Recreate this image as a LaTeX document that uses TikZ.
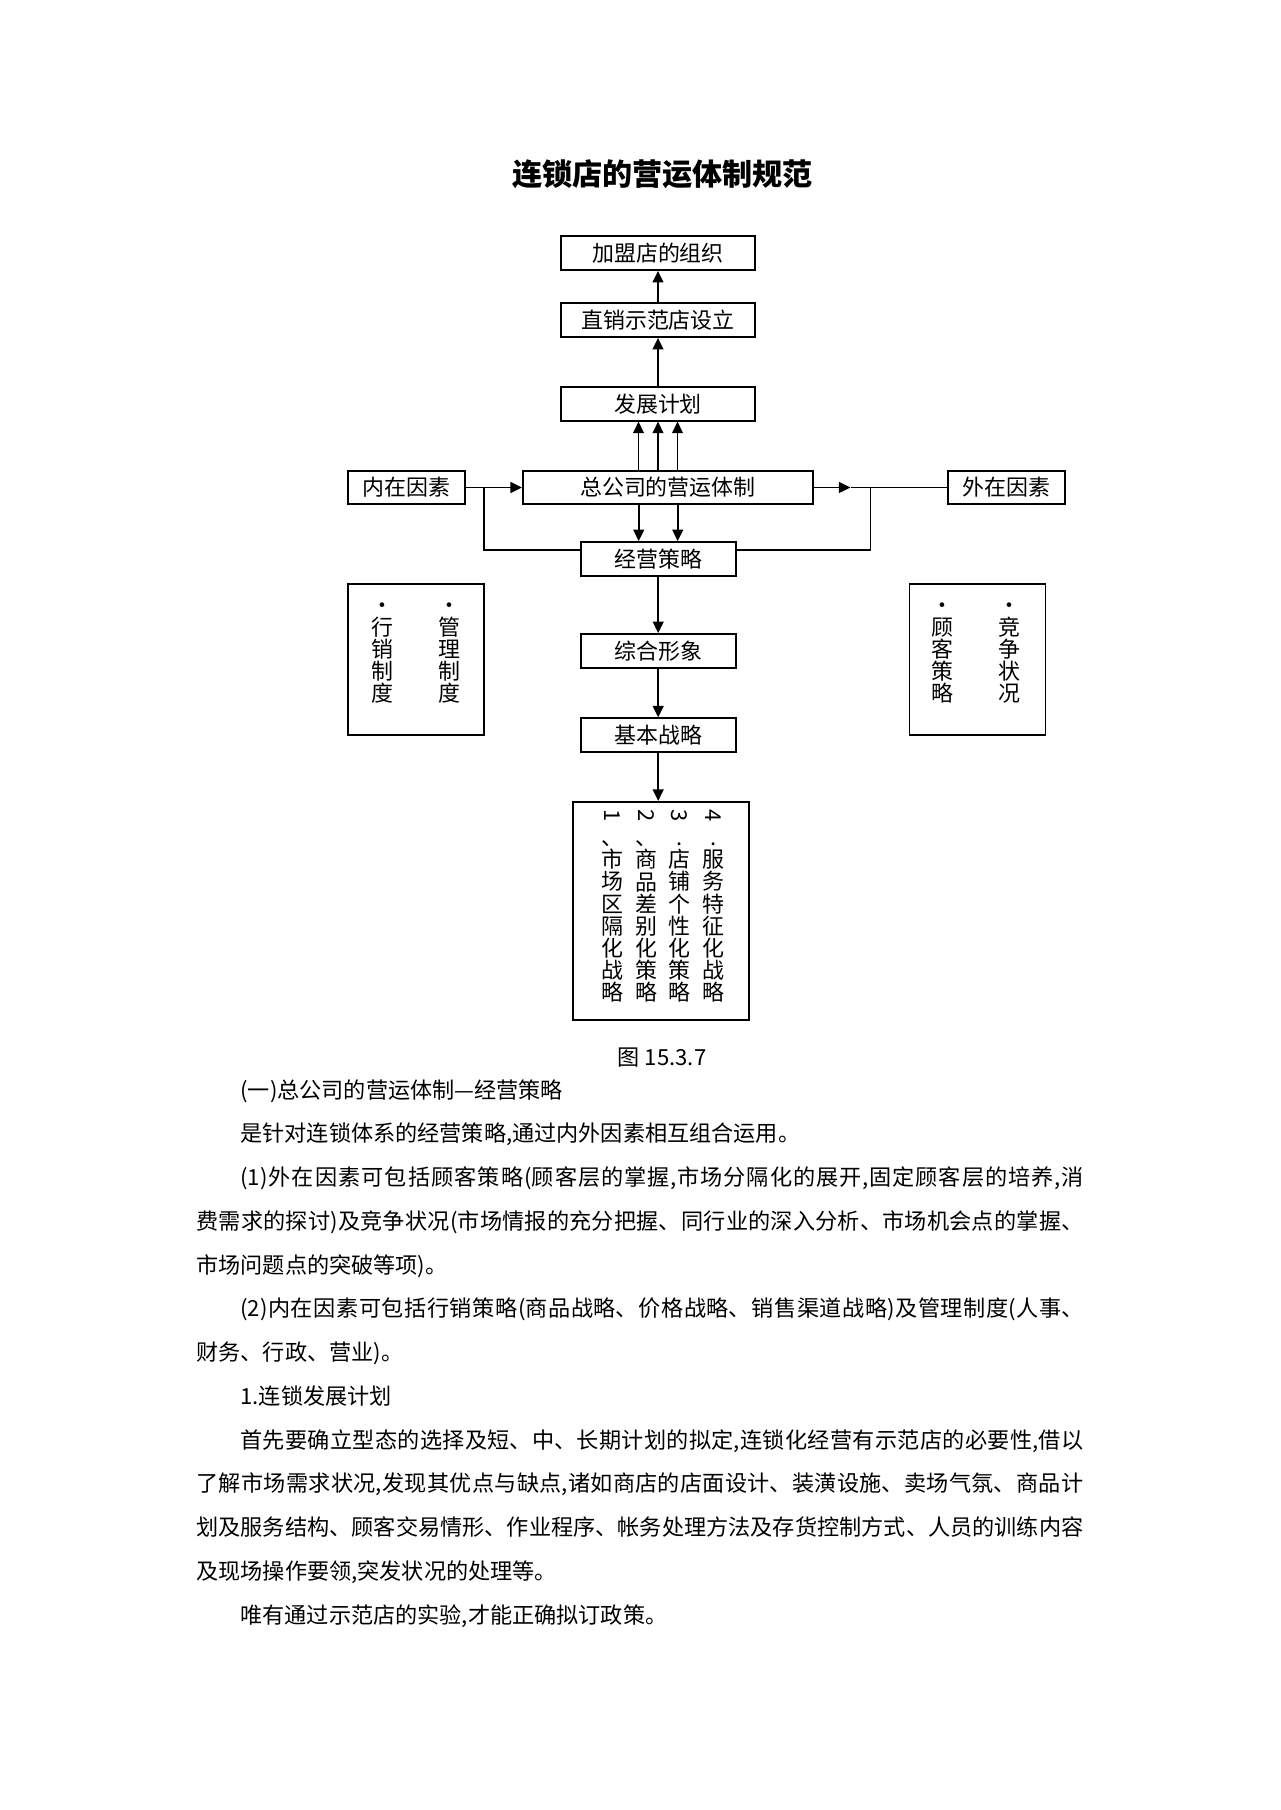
\documentclass[tikz,border=0pt]{standalone}
\usepackage{fontspec}
\usepackage{graphicx}
\setmainfont{Noto Sans CJK SC}
\usetikzlibrary{arrows.meta}
\XeTeXlinebreaklocale "zh"
\XeTeXlinebreakskip=0pt plus 1pt
\newcommand{\pxu}{0.4651pt}
\tikzset{
  box/.style={draw,line width=0.8pt,inner sep=0pt,font=\fontsize{10.2pt}{12pt}\selectfont},
  arr/.style={-{Triangle[length=5.4pt,width=5pt]},line width=0.9pt},
  xian/.style={line width=0.7pt},
  vcol/.style={align=center,inner sep=0pt,font=\fontsize{10.2pt}{10.3pt}\selectfont},
}
\begin{document}
\begin{tikzpicture}[x=0.4651pt,y=-0.4651pt]
    \useasboundingbox (0,0) rectangle (1280,1810);
    \node[font=\fontsize{14pt}{16pt}\selectfont\bfseries] (biaoti) at (662.5,174) {连锁店的营运体制规范};

    \node[box,minimum width=194*\pxu,minimum height=34*\pxu] (jiameng) at (658,253) {加盟店的组织};
    \node[box,minimum width=194*\pxu,minimum height=34*\pxu] (zhixiao) at (658,320) {直销示范店设立};
    \node[box,minimum width=194*\pxu,minimum height=34*\pxu] (fazhan) at (658,403.7) {发展计划};
    \node[box,minimum width=290*\pxu,minimum height=33.6*\pxu] (zonggongsi) at (667.9,487.5) {总公司的营运体制};
    \node[box,minimum width=117*\pxu,minimum height=33.6*\pxu] (neizai) at (406.5,487.5) {内在因素};
    \node[box,minimum width=117*\pxu,minimum height=33.6*\pxu] (waizai) at (1006.3,487.5) {外在因素};
    \node[box,minimum width=155*\pxu,minimum height=34*\pxu] (jingying) at (658.2,559) {经营策略};
    \node[box,minimum width=155*\pxu,minimum height=34*\pxu] (zonghe) at (658.2,651) {综合形象};
    \node[box,minimum width=155*\pxu,minimum height=34*\pxu] (jiben) at (658.2,735.3) {基本战略};

    % side boxes
    \node[box,minimum width=136*\pxu,minimum height=151*\pxu] (neibox) at (416,659.5) {};
    \node[vcol] (hangxiao) at (382,653) {•\\行\\销\\制\\度};
    \node[vcol] (guanli) at (449,653) {•\\管\\理\\制\\度};
    \node[box,minimum width=136*\pxu,minimum height=151*\pxu] (waibox) at (977.6,659.6) {};
    \node[vcol] (guke) at (942.7,653) {•\\顾\\客\\策\\略};
    \node[vcol] (jingzheng) at (1009.3,653) {•\\竞\\争\\状\\况};

    % strategy box
    \node[box,minimum width=176*\pxu,minimum height=218.3*\pxu] (celve) at (661,911) {};
    \node[vcol] (celve1) at (612.7,906) {\rotatebox[origin=c]{-90}{1}\\、\\市\\场\\区\\隔\\化\\战\\略};
    \node[vcol] (celve2) at (646.5,906) {\rotatebox[origin=c]{-90}{2}\\、\\商\\品\\差\\别\\化\\策\\略};
    \node[vcol] (celve3) at (679.7,906) {\rotatebox[origin=c]{-90}{3}\\.\\店\\铺\\个\\性\\化\\策\\略};
    \node[vcol] (celve4) at (713.3,906) {\rotatebox[origin=c]{-90}{4}\\.\\服\\务\\特\\征\\化\\战\\略};

    % connectors
    \draw[arr] (zhixiao) -- (jiameng);
    \draw[arr] (fazhan) -- (zhixiao);
    \foreach \dx in {-9.07,0,9.07}
      \draw[arr] ([xshift=\dx pt]fazhan.south |- zonggongsi.north) -- ([xshift=\dx pt]fazhan.south);
    \foreach \dx in {-9.07,9.07}
      \draw[arr] ([xshift=\dx pt]jingying.north |- zonggongsi.south) -- ([xshift=\dx pt]jingying.north);
    \coordinate (lfen) at (484,487.5);
    \coordinate (rjian) at (850.5,487.5);
    \coordinate (rfen) at (870.7,487.5);
    \draw[arr] (neizai) -- (zonggongsi);
    \draw[arr] (zonggongsi) -- (rjian);
    \draw[xian] (rjian) -- (waizai);
    \draw[xian] (lfen) |- ([yshift=4.2pt]jingying.west);
    \draw[xian] (rfen) |- ([yshift=4.2pt]jingying.east);
    \draw[arr] (jingying) -- (zonghe);
    \draw[arr] (zonghe) -- (jiben);
    \draw[arr] (jiben.south) -- (jiben.south |- celve.north);

    \node[font=\fontsize{10.3pt}{12pt}\selectfont] (tuhao) at (662,1058) {图 15.3.7};

    % text below
    \node[anchor=north west,inner sep=0pt,text width=887*\pxu,align=justify,
          font=\fontsize{10.3pt}{20.35pt}\selectfont] (zhengwen) at (196,1079) {%
      \parindent=20.46pt\indent
      (一)总公司的营运体制—经营策略\par
      是针对连锁体系的经营策略,通过内外因素相互组合运用。\par
      (1)外在因素可包括顾客策略(顾客层的掌握,市场分隔化的展开,固定顾客层的培养,消\linebreak
      费需求的探讨)及竞争状况(市场情报的充分把握、同行业的深入分析、市场机会点的掌握、\linebreak
      市场问题点的突破等项)。\par
      (2)内在因素可包括行销策略(商品战略、价格战略、销售渠道战略)及管理制度(人事、\linebreak
      财务、行政、营业)。\par
      1.连锁发展计划\par
      首先要确立型态的选择及短、中、长期计划的拟定,连锁化经营有示范店的必要性,借以\linebreak
      了解市场需求状况,发现其优点与缺点,诸如商店的店面设计、装潢设施、卖场气氛、商品计\linebreak
      划及服务结构、顾客交易情形、作业程序、帐务处理方法及存货控制方式、人员的训练内容\linebreak
      及现场操作要领,突发状况的处理等。\par
      唯有通过示范店的实验,才能正确拟订政策。\par};
\end{tikzpicture}
\end{document}
